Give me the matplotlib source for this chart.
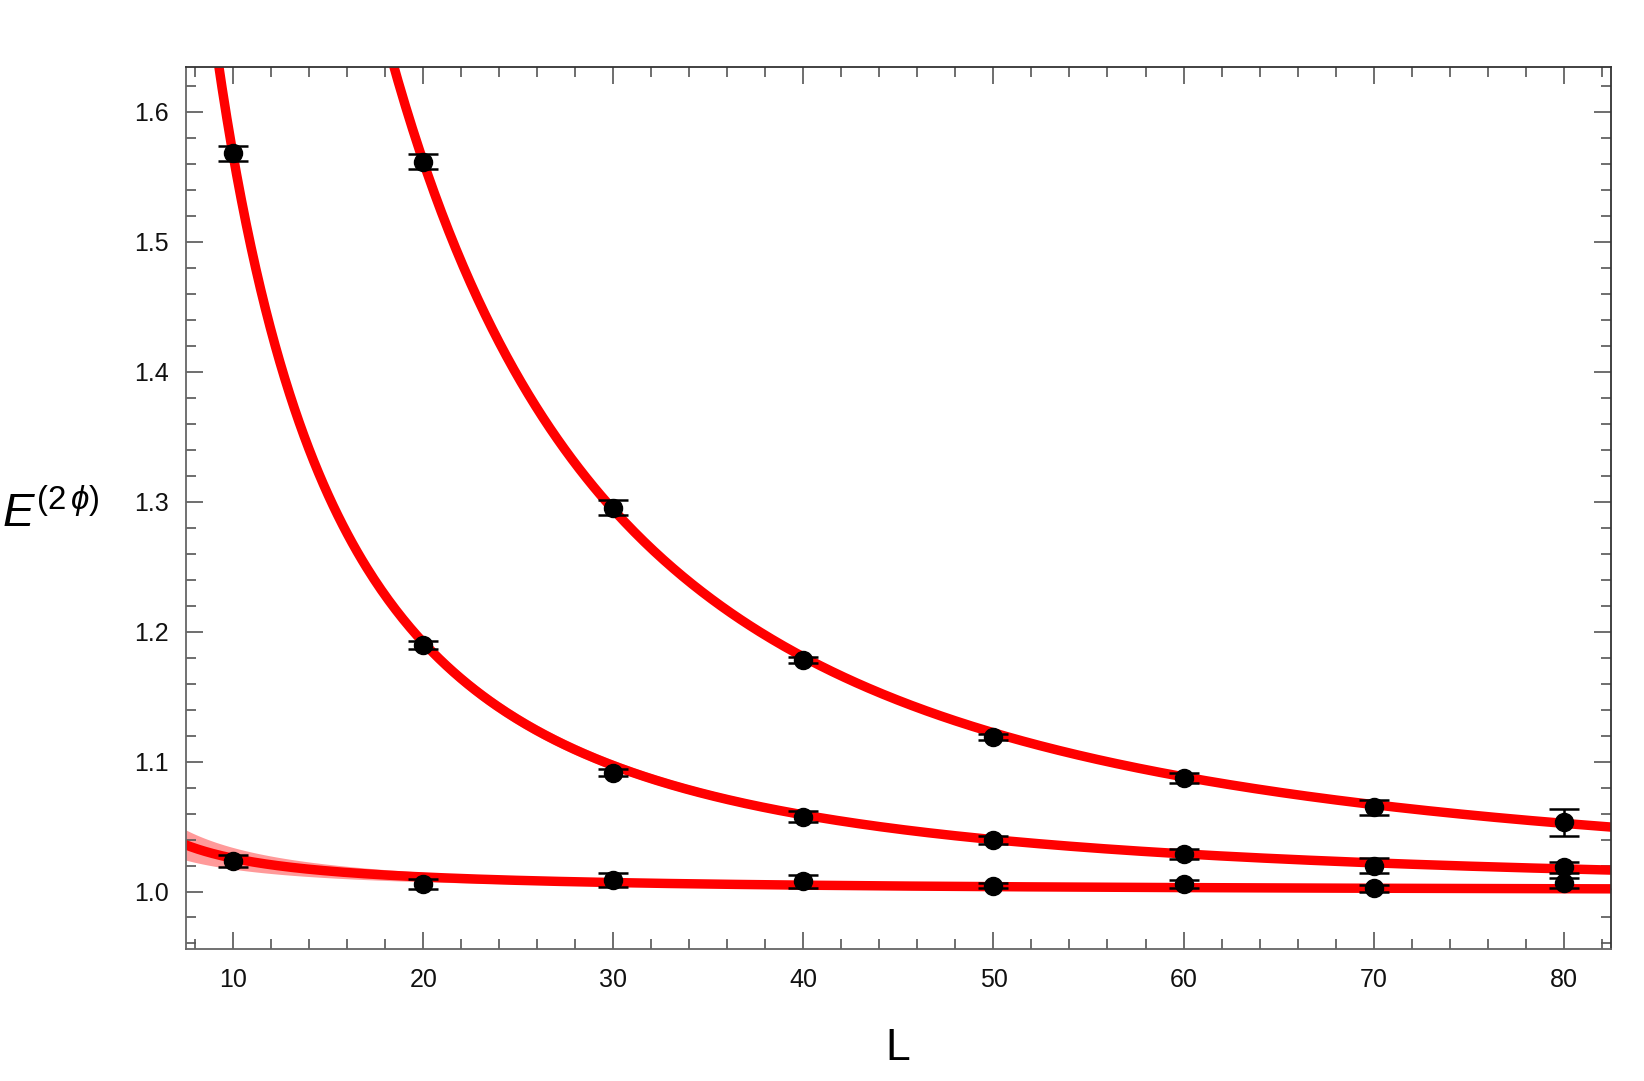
import numpy as np
import matplotlib
matplotlib.use("Agg")
import matplotlib.pyplot as plt
from matplotlib.ticker import MultipleLocator

plt.rcParams['font.family'] = ['Liberation Sans', 'DejaVu Sans']
plt.rcParams['mathtext.fontset'] = 'custom'
plt.rcParams['mathtext.rm'] = 'Liberation Sans'
plt.rcParams['mathtext.it'] = 'Liberation Sans:italic'

# lattice data: box size L and energies (three levels)
L = [10, 20, 30, 40, 50, 60, 70, 80]
E0 = [1.0236, 1.0059, 1.0090, 1.0077, 1.0046, 1.0057, 1.0026, 1.0065]
E0_err = [0.0044, 0.0038, 0.0054, 0.0050, 0.0020, 0.0030, 0.0026, 0.0038]
E1 = [1.5680, 1.1898, 1.0915, 1.0577, 1.0398, 1.0288, 1.0200, 1.0185]
E1_err = [0.0056, 0.0030, 0.0028, 0.0040, 0.0030, 0.0040, 0.0054, 0.0040]
L2 = [20, 30, 40, 50, 60, 70, 80]
E2 = [1.5615, 1.2954, 1.1782, 1.1188, 1.0872, 1.0649, 1.0531]
E2_err = [0.0059, 0.0058, 0.0023, 0.0022, 0.0036, 0.0058, 0.0103]

# fit curves E = sqrt(1 + A*(L0/L)^b), band from dA (relative) and db
fit_A = [0.073, 1.452, 1.4383]
fit_L0 = [7.5, 10.0, 20.0]
fit_b = [1.2, 1.79, 1.87]
fit_dA = [0.33, 0.0, 0.0]
fit_db = [0.0, 0.037, 0.012]


def model(x, A, L0, b):
    return np.sqrt(1 + A * (L0 / x) ** b)


fig = plt.figure(figsize=(16.44, 10.81), dpi=100)
ax = fig.add_axes([0.113, 0.1224, 0.867, 0.8156])

xs = np.linspace(7.0, 83.0, 600)
for A, L0, b, dA, db in zip(fit_A, fit_L0, fit_b, fit_dA, fit_db):
    variants = [model(xs, A * (1 + s * dA), L0, b + t * db)
                for s in (-1, 1) for t in (-1, 1)]
    lo = np.min(variants, axis=0)
    hi = np.max(variants, axis=0)
    ax.fill_between(xs, lo, hi, color='#ff9a9a', lw=0, zorder=1)
    ax.plot(xs, model(xs, A, L0, b), color='#ff0000', lw=6.8, zorder=2,
            solid_capstyle='butt')

for x, y, e in [(L, E0, E0_err), (L, E1, E1_err), (L2, E2, E2_err)]:
    ax.errorbar(x, y, yerr=e, fmt='o', color='black', ms=13, elinewidth=1.8,
                capsize=11, capthick=1.8, zorder=3)

ax.set_xlim(7.5, 82.5)
ax.set_ylim(0.956, 1.6344)
ax.xaxis.set_major_locator(MultipleLocator(10))
ax.xaxis.set_minor_locator(MultipleLocator(2))
ax.yaxis.set_major_locator(MultipleLocator(0.1))
ax.yaxis.set_minor_locator(MultipleLocator(0.02))
ax.yaxis.set_major_formatter(matplotlib.ticker.FormatStrFormatter('%.1f'))

ax.tick_params(which='both', direction='in', top=True, right=True,
               color='#555555', labelsize=18, labelcolor='#111111', width=1.2)
ax.tick_params(which='major', length=12, pad=12)
ax.tick_params(which='minor', length=7)
ax.tick_params(axis='x', which='major', pad=14)
for side in ['left', 'bottom']:
    ax.spines[side].set_color('#666666')
for side in ['top', 'right']:
    ax.spines[side].set_color('#333333')
for s in ax.spines.values():
    s.set_linewidth(1.3)

fig.text(0.546, 0.03, 'L', fontsize=32, ha='center', va='center')
fig.text(0.001, 0.525, r'$E^{(2\,\phi)}$', fontsize=34, ha='left', va='center')

fig.savefig('out.png', dpi=100)
